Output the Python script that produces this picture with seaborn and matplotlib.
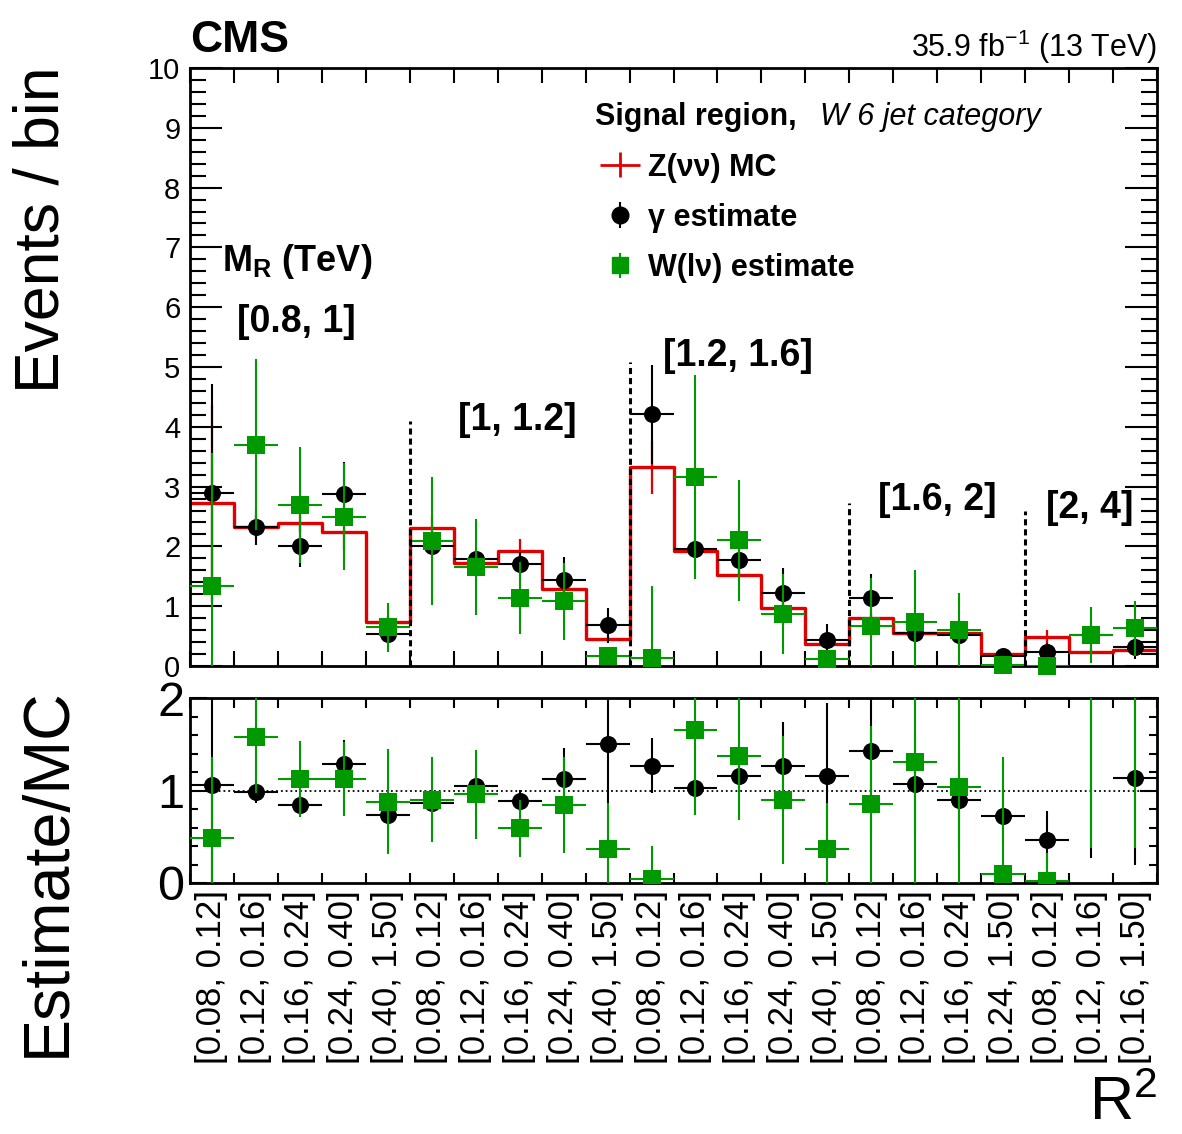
import numpy as np
import pandas as pd
import matplotlib
matplotlib.use("Agg")
import matplotlib.pyplot as plt
import seaborn as sns
from matplotlib.ticker import MultipleLocator
from matplotlib.legend_handler import HandlerErrorbar

# ---------------- data ----------------
mr_labels = ["[0.8, 1]", "[1, 1.2]", "[1.2, 1.6]", "[1.6, 2]", "[2, 4]"]
mr_nbins = [5, 5, 5, 4, 3]
r2_labels = [
    "[0.08, 0.12]", "[0.12, 0.16]", "[0.16, 0.24]", "[0.24, 0.40]", "[0.40, 1.50]",
    "[0.08, 0.12]", "[0.12, 0.16]", "[0.16, 0.24]", "[0.24, 0.40]", "[0.40, 1.50]",
    "[0.08, 0.12]", "[0.12, 0.16]", "[0.16, 0.24]", "[0.24, 0.40]", "[0.40, 1.50]",
    "[0.08, 0.12]", "[0.12, 0.16]", "[0.16, 0.24]", "[0.24, 1.50]",
    "[0.08, 0.12]", "[0.12, 0.16]", "[0.16, 1.50]",
]
mc = [2.72, 2.33, 2.39, 2.24, 0.74, 2.30, 1.72, 1.92, 1.29, 0.45, 3.32,
      1.92, 1.53, 0.97, 0.36, 0.80, 0.56, 0.56, 0.20, 0.49, 0.23, 0.27]
mc_err = [1.65, 0.20, 0.15, 0.30, 0.10, 0.20, 0.10, 0.20, 0.10, 0.05, 0.44,
          0.10, 0.10, 0.10, 0.05, 0.08, 0.05, 0.05, 0.03, 0.12, 0.05, 0.05]
gamma = [2.89, 2.32, 2.00, 2.88, 0.54, 2.01, 1.79, 1.70, 1.44, 0.68, 4.21,
         1.96, 1.77, 1.22, 0.43, 1.14, 0.56, 0.52, 0.16, 0.23, 0.52, 0.31]
gamma_err = [1.82, 0.30, 0.35, 0.53, 0.15, 0.20, 0.15, 0.20, 0.38, 0.29, 0.83,
             0.30, 0.25, 0.42, 0.28, 0.40, 0.30, 0.25, 0.10, 0.15, 0.25, 0.20]
wlnu = [1.33, 3.70, 2.69, 2.50, 0.65, 2.09, 1.65, 1.14, 1.08, 0.16, 0.14,
        3.16, 2.10, 0.87, 0.12, 0.67, 0.74, 0.60, 0.02, 0.00, 0.52, 0.63]
wlnu_err = [2.23, 1.43, 0.97, 0.90, 0.41, 1.07, 0.80, 0.60, 0.65, 0.10, 1.20,
            1.70, 1.01, 0.67, 0.10, 0.80, 0.87, 0.62, 0.10, 0.05, 0.47, 0.46]
ratio_gamma = [1.06, 0.98, 0.84, 1.29, 0.73, 0.87, 1.05, 0.89, 1.12, 1.50, 1.27,
               1.03, 1.16, 1.26, 1.16, 1.43, 1.07, 0.90, 0.72, 0.47, 2.15, 1.14]
ratio_gamma_err = [1.10, 0.12, 0.10, 0.26, 0.12, 0.10, 0.12, 0.12, 0.34, 0.64, 0.30,
                   0.15, 0.18, 0.48, 0.79, 0.90, 0.57, 0.54, 0.30, 0.31, 1.88, 0.94]
ratio_wlnu = [0.49, 1.58, 1.12, 1.12, 0.88, 0.90, 0.96, 0.59, 0.84, 0.37, 0.04,
              1.65, 1.37, 0.90, 0.37, 0.85, 1.31, 1.04, 0.10, 0.02, 2.15, 2.10]
ratio_wlnu_err = [0.87, 0.61, 0.41, 0.40, 0.57, 0.46, 0.48, 0.31, 0.52, 0.49, 0.36,
                  0.91, 0.69, 0.69, 0.49, 0.85, 1.40, 1.20, 1.26, 0.30, 1.77, 1.72]

# ---------------- style ----------------
sns.set_theme(style="ticks")
plt.rcParams["font.family"] = ["Liberation Sans", "DejaVu Sans"]
plt.rcParams["mathtext.fontset"] = "custom"
plt.rcParams["mathtext.rm"] = "Liberation Sans"
plt.rcParams["mathtext.bf"] = "Liberation Sans:bold"
plt.rcParams["mathtext.it"] = "Liberation Sans:italic"
plt.rcParams["axes.linewidth"] = 2.0
for key in ["text.color", "axes.labelcolor", "xtick.color", "ytick.color",
            "axes.edgecolor", "xtick.labelcolor", "ytick.labelcolor"]:
    plt.rcParams[key] = "black"

RED = "#e00000"
GREEN = "#009900"

W, H = 1182, 1134
fig = plt.figure(figsize=(W / 100, H / 100), dpi=100)


def fx(px):
    return px / W


def fy(py):
    return 1 - py / H


ax1 = fig.add_axes([fx(190), fy(666), (1157 - 190) / W, (666 - 68) / H])
ax2 = fig.add_axes([fx(190), fy(883), (1157 - 190) / W, (883 - 698) / H])

n = len(mc)
centers = np.arange(n) + 0.5
edges = np.arange(n + 1)
df = pd.DataFrame({"x": centers, "mc": mc, "gamma": gamma, "wlnu": wlnu,
                   "rg": ratio_gamma, "rw": ratio_wlnu})

# ---------------- top panel ----------------
sns.lineplot(x=edges, y=np.append(mc, mc[-1]), drawstyle="steps-post",
             color=RED, lw=2.4, ax=ax1, zorder=2)
ax1.errorbar(centers, mc, yerr=mc_err, fmt="none", ecolor=RED,
             elinewidth=1.6, zorder=2)

ax1.errorbar(centers, gamma, xerr=0.5, yerr=gamma_err, fmt="none",
             ecolor="black", elinewidth=1.5, zorder=3)
sns.scatterplot(data=df, x="x", y="gamma", color="black", marker="o", s=150,
                linewidth=0, ax=ax1, zorder=3.1, clip_on=False)

ax1.errorbar(centers, wlnu, xerr=0.5, yerr=wlnu_err, fmt="none",
             ecolor=GREEN, elinewidth=1.5, zorder=4)
sns.scatterplot(data=df, x="x", y="wlnu", color=GREEN, marker="s", s=150,
                linewidth=0, ax=ax1, zorder=4.1, clip_on=False)

# MR boundaries
bounds = np.cumsum(mr_nbins)[:-1]
line_tops = [4.1, 5.08, 2.73, 2.6]
for b, t in zip(bounds, line_tops):
    ax1.plot([b, b], [0, t], color="black", lw=2.2, ls=(0, (2, 1.3)), zorder=5)

label_pos = [(2.43, 5.75), (7.44, 4.11), (12.47, 5.18), (17.0, 2.78), (20.48, 2.64)]
for lab, (x, y) in zip(mr_labels, label_pos):
    ax1.text(x, y, lab, ha="center", va="center", fontsize=27, fontweight="bold")
ax1.text(2.43, 6.76, r"M$_{\mathbf{R}}$ (TeV)", ha="center", va="center",
         fontsize=26, fontweight="bold")

ax1.set_xlim(0, n)
ax1.set_ylim(0, 10)
ax1.set_xticks(edges)
ax1.set_xticklabels([])
ax1.yaxis.set_major_locator(MultipleLocator(1))
ax1.yaxis.set_minor_locator(MultipleLocator(0.2))
ax1.tick_params(axis="y", which="major", direction="in", length=23, width=1.5,
                left=True, right=True, labelsize=21, pad=7)
ax1.tick_params(axis="y", which="minor", direction="in", length=11.5, width=1.5,
                left=True, right=True)
ax1.tick_params(axis="x", which="major", direction="in", length=11, width=1.5,
                top=True, bottom=True)
ax1.set_xlabel("")
ax1.set_ylabel("")

# legend
LFS = 22
mc_proxy = ax1.errorbar([np.nan], [np.nan], xerr=[1], yerr=[1], fmt="none",
                        ecolor=RED, elinewidth=2)
g_proxy = ax1.errorbar([np.nan], [np.nan], yerr=[1], fmt="o", color="black",
                       ms=12, elinewidth=1.5)
w_proxy = ax1.errorbar([np.nan], [np.nan], yerr=[1], fmt="s", color=GREEN,
                       ms=12, elinewidth=1.5)
leg = ax1.legend([mc_proxy, g_proxy, w_proxy],
                 ["Z(νν) MC", "γ estimate", "W(lν) estimate"],
                 loc="upper left", bbox_to_anchor=(fx(600), fy(153)),
                 bbox_transform=fig.transFigure, frameon=False,
                 prop={"weight": "bold", "size": LFS}, handlelength=1.3,
                 handleheight=0.8, handletextpad=0.26, labelspacing=0.66,
                 borderpad=0, borderaxespad=0, numpoints=1,
                 handler_map={mc_proxy: HandlerErrorbar(xerr_size=0.65, yerr_size=0.41),
                              g_proxy: HandlerErrorbar(xerr_size=0.3, yerr_size=0.41),
                              w_proxy: HandlerErrorbar(xerr_size=0.3, yerr_size=0.41)})

fig.text(fx(595), fy(117), "Signal region,", fontsize=LFS, fontweight="bold",
         ha="left", va="center")
fig.text(fx(820), fy(117), "W 6 jet category", fontsize=LFS, style="italic",
         ha="left", va="center")

# ---------------- ratio panel ----------------
ax2.axhline(1, color="black", ls=":", lw=1.3, zorder=1)
ax2.errorbar(centers, ratio_gamma, xerr=0.5, yerr=ratio_gamma_err, fmt="none",
             ecolor="black", elinewidth=1.5, zorder=3)
sns.scatterplot(data=df, x="x", y="rg", color="black", marker="o", s=150,
                linewidth=0, ax=ax2, zorder=3.1)
ax2.errorbar(centers, ratio_wlnu, xerr=0.5, yerr=ratio_wlnu_err, fmt="none",
             ecolor=GREEN, elinewidth=1.5, zorder=4)
sns.scatterplot(data=df, x="x", y="rw", color=GREEN, marker="s", s=150,
                linewidth=0, ax=ax2, zorder=4.1)

ax2.set_xlim(0, n)
ax2.set_ylim(0, 2)
ax2.set_xticks(edges)
ax2.set_xticklabels([])
ax2.set_xticks(centers, minor=True)
ax2.set_xticklabels(r2_labels, minor=True, rotation=90, fontsize=25)
ax2.set_yticks([0, 1, 2])
ax2.set_yticklabels(["0", "1", "2"], fontsize=35)
ax2.yaxis.set_minor_locator(MultipleLocator(0.2))
ax2.tick_params(axis="x", which="major", direction="in", length=7.5, width=1.5,
                top=True, bottom=True)
ax2.tick_params(axis="x", which="minor", length=0, pad=5)
ax2.tick_params(axis="y", which="major", direction="in", length=12, width=1.5,
                left=True, right=True, pad=4)
ax2.tick_params(axis="y", which="minor", direction="in", length=6, width=1.5,
                left=True, right=True)
ax2.set_xlabel("")
ax2.set_ylabel("")

# ---------------- titles / axis labels ----------------
fig.text(fx(190), fy(52), "CMS", fontsize=32, fontweight="bold",
         ha="left", va="baseline")
fig.text(fx(1157), fy(57), r"35.9 fb$^{-1}$ (13 TeV)", fontsize=22,
         ha="right", va="baseline")
fig.text(fx(42), fy(230), "Events / bin", fontsize=45, rotation=90,
         ha="center", va="center")
fig.text(fx(48), fy(872), "Estimate/MC", fontsize=46.5, rotation=90,
         ha="center", va="center")
fig.text(fx(1157), fy(1133), r"R$^{2}$", fontsize=44, ha="right", va="bottom")

fig.savefig("out.png", dpi=100)
